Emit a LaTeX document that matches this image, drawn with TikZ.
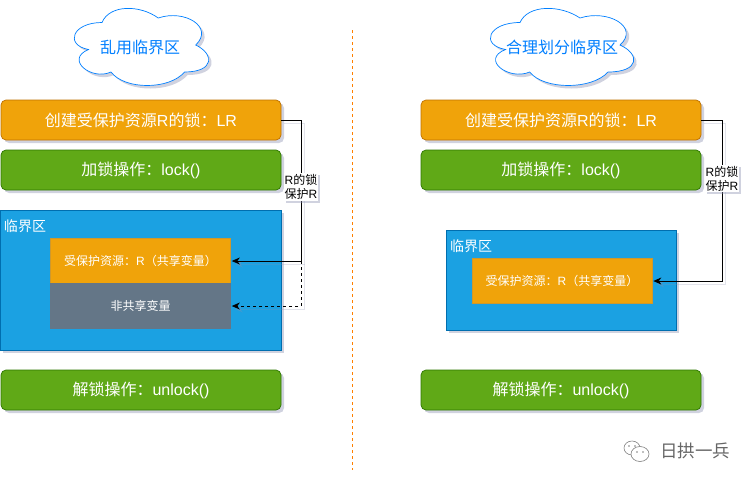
\documentclass[tikz,border=0pt]{standalone}
\usepackage{fontspec}
\setmainfont{Liberation Sans}
\newfontfamily\cjk{Noto Sans CJK SC}
\usetikzlibrary{positioning,shadows,arrows.meta}
\definecolor{lockorange}{HTML}{F0A30A}
\definecolor{lockorangeline}{HTML}{BD7000}
\definecolor{lockgreen}{HTML}{60A917}
\definecolor{lockgreenline}{HTML}{2D7600}
\definecolor{zoneblue}{HTML}{1BA1E2}
\definecolor{zoneblueline}{HTML}{006EAF}
\definecolor{slategray}{HTML}{647687}
\definecolor{cloudblue}{HTML}{007FFF}
\definecolor{splitorange}{HTML}{FF8000}
\definecolor{shadowgray}{HTML}{8A8FB0}
\newcommand{\zh}[1]{{\cjk #1}}
\newcommand{\cloudshape}[4]{
\begin{scope}[shift={(#1,#2)}, x=#3pt, y=-#4pt]
\draw[draw=cloudblue, fill=white, softshadow] (0.25,0.25) .. controls (0.05,0.25) and (0,0.5) .. (0.16,0.55)
  .. controls (0,0.66) and (0.18,0.9) .. (0.31,0.8)
  .. controls (0.4,1) and (0.7,1) .. (0.8,0.8)
  .. controls (1,0.8) and (1,0.6) .. (0.875,0.5)
  .. controls (1,0.3) and (0.8,0.1) .. (0.625,0.2)
  .. controls (0.5,0.05) and (0.3,0.05) .. cycle;
\end{scope}
}

\begin{document}
\begin{tikzpicture}[x=1pt, y=1pt, node distance=50pt, thick, line width=0.7pt]
\tikzstyle{softshadow} = [drop shadow={shadow xshift=3pt, shadow yshift=-3pt, fill=shadowgray, opacity=0.4}]
\tikzstyle{block} = [rectangle, draw, rounded corners=5pt, softshadow, text=white, text centered, minimum width=280pt, minimum height=40pt, inner sep=0pt, font=\fontsize{16}{19}\selectfont]
\tikzstyle{createbox} = [block, fill=lockorange, draw=lockorangeline]
\tikzstyle{opbox} = [block, fill=lockgreen, draw=lockgreenline]
\tikzstyle{zonebox} = [rectangle, draw=zoneblueline, fill=zoneblue, softshadow, inner sep=0pt]
\tikzstyle{zonetitle} = [anchor=north west, text=white, inner sep=0pt, xshift=4pt, yshift=-10pt, font=\fontsize{14}{16}\selectfont]
\tikzstyle{inner} = [rectangle, text=white, text centered, minimum width=180pt, minimum height=45pt, inner sep=0pt, font=\fontsize{12}{14}\selectfont]
\tikzstyle{sharedbox} = [inner, fill=lockorange, draw=lockorange!70!gray]
\tikzstyle{otherbox} = [inner, fill=slategray, draw=slategray]
\tikzstyle{title} = [text=cloudblue, inner sep=0pt, font=\fontsize{16}{19}\selectfont]
\tikzstyle{guard} = [rectangle, fill=white, align=center, inner sep=1pt, drop shadow={shadow xshift=2pt, shadow yshift=-2pt, fill=shadowgray, opacity=0.4}, font=\fontsize{12}{14}\selectfont]
\tikzstyle{link} = [draw=black, preaction={draw=shadowgray, opacity=0.25, transform canvas={xshift=3pt, yshift=-3pt}}]
\tikzstyle{tip} = [-{Stealth[length=8pt, width=7pt]}, shorten >=1pt]
\tikzstyle{split} = [draw=splitorange, line width=1pt, dash pattern=on 3pt off 3pt]

\useasboundingbox (0,0) rectangle (754,-483);

\cloudshape{64.5}{0}{150}{90}
\node[title] (cloudA) at (140,-47) {\zh{乱用临界区}};
\node[createbox] (createA) at (141,-120) {\zh{创建受保护资源}R\zh{的锁：}LR};
\node[opbox, below of=createA] (lockA) {\zh{加锁操作：}lock()};
\node[zonebox, minimum width=281pt, minimum height=140pt] (zoneA) at (140.5,-280) {};
\node[zonetitle] (zonetitleA) at (zoneA.north west) {\zh{临界区}};
\node[sharedbox] (sharedA) at (140.5,-260.5) {\zh{受保护资源：}R\zh{（共享变量）}};
\node[otherbox, below of=sharedA, node distance=45pt] (otherA) {\zh{非共享变量}};
\node[opbox] (unlockA) at (141,-390) {\zh{解锁操作：}unlock()};
\coordinate (turnA) at (301,-261);
\coordinate (dropA) at (301,-306);

\cloudshape{480}{0}{160}{90}
\node[title] (cloudB) at (562,-47) {\zh{合理划分临界区}};
\node[createbox] (createB) at (561,-120) {\zh{创建受保护资源}R\zh{的锁：}LR};
\node[opbox, below of=createB] (lockB) {\zh{加锁操作：}lock()};
\node[zonebox, minimum width=230pt, minimum height=100pt] (zoneB) at (561,-280) {};
\node[zonetitle] (zonetitleB) at (zoneB.north west) {\zh{临界区}};
\node[sharedbox] (sharedB) at (562,-280.5) {\zh{受保护资源：}R\zh{（共享变量）}};
\node[opbox] (unlockB) at (561,-390) {\zh{解锁操作：}unlock()};
\coordinate (turnB) at (722,-281);

\coordinate (splittop) at (352.5,-30);
\coordinate (splitbottom) at (352.5,-470);
\draw[split] (splittop) -- (splitbottom);

\draw[link, tip] (createA.east) -| (turnA) -- (sharedA.east |- turnA);
\draw[link, tip, dashed] (turnA) -- (dropA) -- (otherA.east |- dropA);
\draw[link, tip] (createB.east) -| (turnB) -- (sharedB.east |- turnB);

\node[guard] (guardA) at (301,-187) {R\zh{的锁}\\\zh{保护}R};
\node[guard] (guardB) at (722,-178.5) {R\zh{的锁}\\\zh{保护}R};

% watermark
\draw[gray, line width=0.6pt, fill=white] (632,-448) ellipse (8pt and 7pt);
\fill[gray] (629,-446) circle (0.8pt) (635,-446) circle (0.8pt);
\draw[gray, line width=0.6pt, fill=white] (640,-454) ellipse (9pt and 7.5pt);
\fill[gray] (637,-452) circle (0.8pt) (643,-452) circle (0.8pt);
\node[text=gray!80!black, inner sep=0pt, font=\fontsize{17.5}{20}\selectfont] (mark) at (695,-451) {\zh{日拱一兵}};
\end{tikzpicture}
\end{document}
